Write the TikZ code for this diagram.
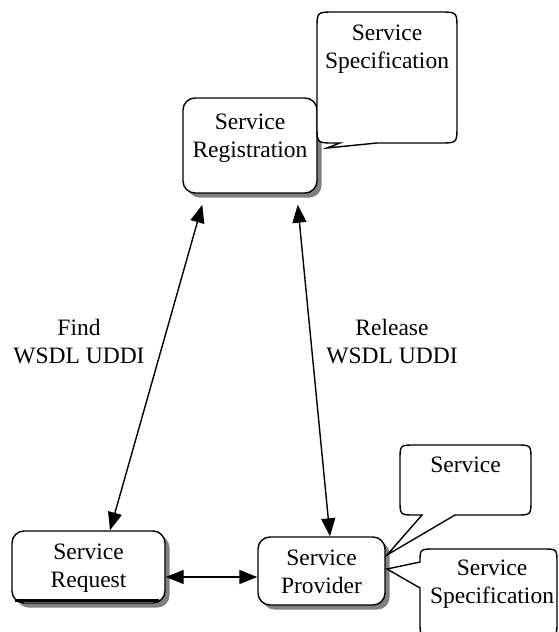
\documentclass[tikz,border=0pt]{standalone}
\usepackage{fontspec}
\setmainfont{Liberation Serif}
\usetikzlibrary{arrows.meta,shadows}
\tikzset{
  box/.style={draw, line width=1.4pt, rounded corners=12pt, fill=white, inner sep=0pt,
    drop shadow={shadow xshift=4.5pt, shadow yshift=-4.5pt, fill=black!50, opacity=1}},
  txt/.style={align=center, font=\fontsize{23.5}{28}\selectfont, inner sep=0pt},
  callout/.style={draw, line width=1.4pt, fill=white, line join=miter},
  link/.style={line width=1.4pt, {Triangle[length=18pt,width=14pt]}-{Triangle[length=18pt,width=14pt]}},
}
\begin{document}
\begin{tikzpicture}[x=1pt,y=-1pt]
\useasboundingbox (0,0) rectangle (559,632);
\clip (0,0) rectangle (559,632);

% main boxes
\node[box, minimum width=134pt, minimum height=95pt] (reg) at (250,145.5) {};
\node[box, minimum width=153pt, minimum height=72pt] (req) at (88.5,567) {};
\node[box, minimum width=127pt, minimum height=68pt] (prov) at (321.5,571) {};

% double rule along the bottom of the request box
\draw[line width=2.7pt] ([xshift=4pt,yshift=3pt]req.south west) -- ([xshift=-7pt,yshift=3pt]req.south east);

\node[txt] (regtext) at (250,138.5) {Service\\Registration};
\node[txt] (reqtext) at (88.5,568) {Service\\Request};
\node[txt] (provtext) at (321.5,571.5) {Service\\Provider};

% callouts
\draw[callout] (340,143) -- (327,148) -- (377,143) -- (440,143) .. controls (457,143) .. (457,126)
  -- (457,29) .. controls (457,12) .. (440,12) -- (334,12) .. controls (317,12) .. (317,29)
  -- (317,126) .. controls (317,143) .. (334,143) -- cycle;
\node[txt] (spectop) at (387,49) {Service\\Specification};

\draw[callout] (422,515) -- (387,555) -- (455,515) -- (516,515) .. controls (531,515) .. (531,500)
  -- (531,460) .. controls (531,445) .. (516,445) -- (415,445) .. controls (400,445) .. (400,460)
  -- (400,500) .. controls (400,515) .. (415,515) -- cycle;
\node[txt] (svc) at (465.5,465) {Service};

\draw[callout] (420,562) -- (387,569) -- (420,588) -- (420,622) .. controls (420,636) .. (434,636)
  -- (543,636) .. controls (557,636) .. (557,622) -- (557,563) .. controls (557,549) .. (543,549)
  -- (435,549) .. controls (420,549) .. (420,562) -- cycle;
\node[txt] (specbot) at (492,584) {Service\\Specification};

% connectors
\draw[link] ([xshift=21.5pt]req.north) -- ([xshift=20pt,yshift=-11pt]reg.south west);
\draw[link] ([xshift=8.5pt]prov.north) -- ([xshift=-20pt,yshift=-11pt]reg.south east);
\draw[link] ([yshift=-10pt]req.east) -- ([yshift=-6pt]prov.west);

\node[txt] (find) at (79,341.5) {Find\\WSDL UDDI};
\node[txt] (release) at (392,341.5) {Release\\WSDL UDDI};
\end{tikzpicture}
\end{document}
